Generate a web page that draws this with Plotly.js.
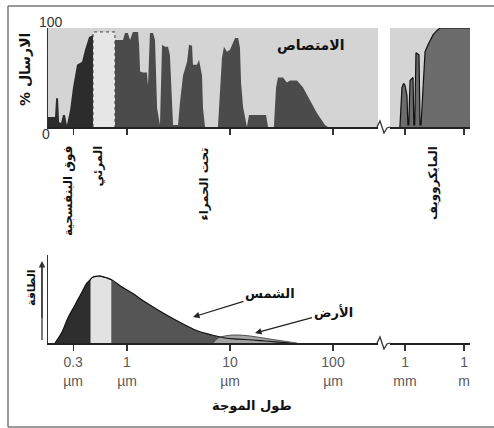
<!DOCTYPE html>
<html>
<head>
<meta charset="utf-8">
<script src="https://cdn.plot.ly/plotly-3.0.1.min.js"></script>
<style>html,body{margin:0;padding:0;background:#fff;}#chart{width:494px;height:428px;}</style>
</head>
<body>
<div id="chart"></div>
<script>
// ---------- DATA ----------
// Transmission (%) of the atmosphere, wavelength in micrometres
const uvWl = [0.171, 0.200, 0.205, 0.214, 0.219, 0.229, 0.239, 0.250, 0.261, 0.280, 0.299, 0.327, 0.366, 0.391, 0.428, 0.468];
const uvT  = [10, 10, 29, 29, 5, 4, 12, 12, 2, 17, 40, 63, 66, 78, 91, 93];

const visTopWl = [0.468, 0.764];   // visible window in transmission panel (µm)
const visTopT = 96;

const irWl = [0.765, 0.80, 0.914, 0.956, 1.02, 1.07, 1.14, 1.28, 1.31, 1.34, 1.43, 1.56, 1.60, 1.67, 1.79, 1.87, 1.96, 2.09, 2.19, 2.34, 2.50, 2.61, 2.73, 2.80, 3.13, 3.27, 3.50, 3.83, 4.00, 4.28, 4.37, 4.78, 5.00, 5.35, 5.47, 5.72, 7.64, 8.00, 8.36, 8.74, 9.35, 10.0, 10.7, 11.2, 12.0, 12.5, 12.8, 13.4, 14.0, 14.6, 15.3, 22.4, 23.4, 26.7, 28.0, 29.2, 32.7, 35.7, 38.3, 44.7, 51.2, 59.8, 70.0, 83.6, 89.4];
const irT  = [88, 88, 88, 95, 95, 88, 96, 96, 83, 56, 55, 55, 42, 95, 95, 88, 19, 2, 83, 81, 81, 73, 19, 2, 2, 25, 52, 66, 83, 82, 63, 63, 68, 52, 19, 0, 0, 35, 70, 81, 76, 78, 85, 90, 90, 80, 45, 20, 10, 0, 12, 12, 0, 0, 40, 50, 50, 45, 47, 47, 40, 27, 14, 2, 0];

// Microwave transmission, wavelength in millimetres
const mwMm = [0.55, 0.70, 0.85, 1.0, 1.25, 1.40, 1.55, 1.80, 2.55, 2.80, 3.10, 3.60, 5.1, 5.8, 6.5, 8.2, 10.4, 14.7, 20, 26.4, 40, 60, 2000];
const mwT  = [0, 40, 44, 42, 32, 2, 2, 47, 50, 2, 2, 75, 73, 2, 2, 45, 76, 83, 88, 93, 97, 100, 100];

// Emitted energy (relative), wavelength in micrometres
const sunWl = [0.200, 0.234, 0.267, 0.313, 0.366, 0.409, 0.437, 0.468, 0.547, 0.640, 0.715, 0.894, 1.12, 1.50, 2.00, 2.73, 3.66, 4.89, 6.69, 8.94, 12.0, 16.4, 21.9, 29.2, 38.3];
const sunE  = [0, 0.125, 0.284, 0.432, 0.580, 0.682, 0.716, 0.750, 0.761, 0.739, 0.716, 0.636, 0.568, 0.466, 0.375, 0.284, 0.205, 0.136, 0.091, 0.057, 0.045, 0.034, 0.023, 0.011, 0];
const visBotWl = [0.437, 0.715];   // visible band in energy panel (µm)

const earthWl = [6.84, 7.64, 8.94, 10.5, 12.5, 15.6, 19.6, 24.4, 30.6, 38.3, 44.7];
const earthE  = [0, 0.057, 0.08, 0.09, 0.09, 0.08, 0.063, 0.045, 0.028, 0.011, 0];

// Tick labels
const umTickVals = [0.3, 1, 10, 100];
const umTickText = ['0.3<br>µm', '1<br>µm', '10<br>µm', '100<br>µm'];
const mmTickVals = [1, 1000];
const mmTickText = ['1<br>mm', '1<br>m'];

// Texts
const txtTransmission = '% الارسال';
const txtAbsorption = 'الامتصاص';
const txtUV = 'فوق البنفسجية';
const txtVisible = 'المرئي';
const txtIR = 'تحت الحمراء';
const txtMicro = 'المايكروويف';
const txtEnergy = 'الطاقة';
const txtSun = 'الشمس';
const txtEarth = 'الأرض';
const txtWavelength = 'طول الموجة';

// ---------- LAYOUT HELPERS ----------
const W = 494, H = 428;
const px = v => v / W;
const py = v => 1 - v / H;
const arFont = (size, color) => ({family: 'DejaVu Sans', size: size, color: color || '#111', weight: 'bold'});

// split sun curve by visible band
const sUV = {x: [], y: []}, sVis = {x: [], y: []}, sIR = {x: [], y: []};
sunWl.forEach((w, i) => {
  if (w <= visBotWl[0]) { sUV.x.push(w); sUV.y.push(sunE[i]); }
  if (w >= visBotWl[0] && w <= visBotWl[1]) { sVis.x.push(w); sVis.y.push(sunE[i]); }
  if (w >= visBotWl[1]) { sIR.x.push(w); sIR.y.push(sunE[i]); }
});
const visPolyX = [visBotWl[0]].concat(sVis.x, [visBotWl[1]]);
const visPolyY = [0].concat(sVis.y, [0]);

const traces = [
  {x: uvWl, y: uvT, xaxis: 'x', yaxis: 'y', type: 'scatter', mode: 'lines', fill: 'tozeroy', fillcolor: '#2c2c2c', line: {width: 0, color: '#2c2c2c'}, hoverinfo: 'skip'},
  {x: [visTopWl[0], visTopWl[0], visTopWl[1], visTopWl[1]], y: [0, visTopT, visTopT, 0], xaxis: 'x', yaxis: 'y', type: 'scatter', mode: 'lines', fill: 'toself', fillcolor: '#e6e6e6', line: {width: 1, color: '#444', dash: 'dot'}, hoverinfo: 'skip'},
  {x: irWl, y: irT, xaxis: 'x', yaxis: 'y', type: 'scatter', mode: 'lines', fill: 'tozeroy', fillcolor: '#4b4b4b', line: {width: 0, color: '#4b4b4b'}, hoverinfo: 'skip'},
  {x: mwMm, y: mwT, xaxis: 'x2', yaxis: 'y2', type: 'scatter', mode: 'lines', fill: 'tozeroy', fillcolor: '#6c6c6c', line: {width: 1.2, color: '#111'}, hoverinfo: 'skip'},
  {x: sUV.x, y: sUV.y, xaxis: 'x3', yaxis: 'y3', type: 'scatter', mode: 'lines', fill: 'tozeroy', fillcolor: '#2e2e2e', line: {width: 0, color: '#2e2e2e', shape: 'spline'}, hoverinfo: 'skip'},
  {x: visPolyX, y: visPolyY, xaxis: 'x3', yaxis: 'y3', type: 'scatter', mode: 'lines', fill: 'toself', fillcolor: '#e2e2e2', line: {width: 1, color: '#222'}, hoverinfo: 'skip'},
  {x: sIR.x, y: sIR.y, xaxis: 'x3', yaxis: 'y3', type: 'scatter', mode: 'lines', fill: 'tozeroy', fillcolor: '#555555', line: {width: 0, color: '#555', shape: 'spline'}, hoverinfo: 'skip'},
  {x: earthWl, y: earthE, xaxis: 'x3', yaxis: 'y3', type: 'scatter', mode: 'lines', fill: 'tozeroy', fillcolor: '#a3a3a3', line: {width: 0.8, color: '#333', shape: 'spline'}, hoverinfo: 'skip'},
  {x: sunWl, y: sunE, xaxis: 'x3', yaxis: 'y3', type: 'scatter', mode: 'lines', line: {width: 1.2, color: '#111', shape: 'spline'}, hoverinfo: 'skip'},
  {x: [], y: [], xaxis: 'x4', yaxis: 'y4', type: 'scatter', mode: 'lines', hoverinfo: 'skip'}
];

const baseX = {type: 'log', showgrid: false, zeroline: false, showline: true, linecolor: '#222', linewidth: 1.5,
  ticks: 'outside', ticklen: 6, tickwidth: 1.2, tickcolor: '#333', fixedrange: true};
const baseY = {showgrid: false, zeroline: false, ticks: '', showticklabels: false, fixedrange: true};
const tickFont = {family: 'Liberation Sans, Arial, sans-serif', size: 14, color: '#5a5a5a'};

const domL = [px(48), px(378)], domR = [px(390), px(470)];
const rangeUm = [-0.767, 2.437], rangeMm = [-0.763, 3.30];
const domTop = [py(127), py(28)], domBot = [py(343), py(255)];

function ann(o) {
  return Object.assign({xref: 'paper', yref: 'paper', xanchor: 'center', yanchor: 'middle', showarrow: false}, o);
}

const layout = {
  width: W, height: H, margin: {l: 0, r: 0, t: 0, b: 0},
  paper_bgcolor: '#ffffff', plot_bgcolor: 'rgba(0,0,0,0)', showlegend: false,
  xaxis:  Object.assign({}, baseX, {domain: domL, range: rangeUm, anchor: 'y', tickvals: umTickVals, showticklabels: false}),
  yaxis:  Object.assign({}, baseY, {domain: domTop, range: [0, 100], anchor: 'x', showline: true, linecolor: '#333', linewidth: 1}),
  xaxis2: Object.assign({}, baseX, {domain: domR, range: rangeMm, anchor: 'y2', tickvals: mmTickVals, showticklabels: false}),
  yaxis2: Object.assign({}, baseY, {domain: domTop, range: [0, 100], anchor: 'x2', showline: false}),
  xaxis3: Object.assign({}, baseX, {domain: domL, range: rangeUm, anchor: 'y3', tickvals: umTickVals, ticktext: umTickText, tickfont: tickFont}),
  yaxis3: Object.assign({}, baseY, {domain: domBot, range: [0, 1], anchor: 'x3', showline: true, linecolor: '#333', linewidth: 1.2}),
  xaxis4: Object.assign({}, baseX, {domain: domR, range: rangeMm, anchor: 'y4', tickvals: mmTickVals, ticktext: mmTickText, tickfont: tickFont}),
  yaxis4: Object.assign({}, baseY, {domain: domBot, range: [0, 1], anchor: 'x4', showline: false}),
  shapes: [
    {type: 'rect', xref: 'x domain', yref: 'y domain', x0: 0, x1: 1, y0: 0, y1: 1, fillcolor: '#d4d4d4', line: {width: 0}, layer: 'below'},
    {type: 'rect', xref: 'x2 domain', yref: 'y2 domain', x0: 0, x1: 1, y0: 0, y1: 1, fillcolor: '#d4d4d4', line: {width: 0}, layer: 'below'},
    {type: 'path', xref: 'paper', yref: 'paper', path: `M ${px(377)},${py(127)} L ${px(380)},${py(121)} L ${px(384)},${py(133)} L ${px(387)},${py(128)} L ${px(390)},${py(127)}`, line: {color: '#333', width: 1.3}},
    {type: 'path', xref: 'paper', yref: 'paper', path: `M ${px(377)},${py(343)} L ${px(380)},${py(337)} L ${px(384)},${py(349)} L ${px(387)},${py(344)} L ${px(390)},${py(343)}`, line: {color: '#333', width: 1.3}},
    {type: 'line', xref: 'paper', yref: 'paper', x0: px(8), x1: px(8), y0: py(6), y1: py(427), line: {color: '#777', width: 1.5}},
    {type: 'line', xref: 'paper', yref: 'paper', x0: px(8), x1: 1.01, y0: py(6), y1: py(6), line: {color: '#777', width: 1.5}},
    {type: 'line', xref: 'paper', yref: 'paper', x0: px(8), x1: 1.01, y0: py(427), y1: py(427), line: {color: '#777', width: 1.5}},
    // energy axis arrow shaft
    {type: 'line', xref: 'paper', yref: 'paper', x0: px(42), x1: px(42), y0: py(340), y1: py(266), line: {color: '#333', width: 1.3}}
  ],
  annotations: [
    ann({x: px(51), y: py(22), text: '100', font: {family: 'Liberation Sans, Arial', size: 14, color: '#333'}}),
    ann({x: px(46), y: py(134), text: '0', font: {family: 'Liberation Sans, Arial', size: 14, color: '#333'}}),
    ann({x: px(25), y: py(70), text: txtTransmission, textangle: -90, font: arFont(14)}),
    ann({x: px(311), y: py(45), text: txtAbsorption, font: arFont(14)}),
    ann({x: px(68), y: py(144), yanchor: 'top', text: txtUV, textangle: -90, font: arFont(12)}),
    ann({x: px(97), y: py(144), yanchor: 'top', text: txtVisible, textangle: -90, font: arFont(12)}),
    ann({x: px(203), y: py(146), yanchor: 'top', text: txtIR, textangle: -90, font: arFont(12)}),
    ann({x: px(433), y: py(144), yanchor: 'top', text: txtMicro, textangle: -90, font: arFont(12)}),
    ann({x: px(31), y: py(287), text: txtEnergy, textangle: -90, font: arFont(11)}),
    ann({x: px(42), y: py(261), ax: 0, ay: 60, text: ' ', font: {size: 2}, showarrow: true, arrowhead: 2, arrowsize: 1, arrowwidth: 1.3, arrowcolor: '#333'}),
    ann({x: px(193), y: py(317), ax: 77, ay: -24, text: txtSun, showarrow: true, arrowhead: 2, arrowsize: 1, arrowwidth: 1.3, arrowcolor: '#222', font: arFont(13)}),
    ann({x: px(255), y: py(333), ax: 78, ay: -21, text: txtEarth, showarrow: true, arrowhead: 2, arrowsize: 1, arrowwidth: 1.3, arrowcolor: '#222', font: arFont(13)}),
    ann({x: px(252), y: py(405), text: txtWavelength, font: arFont(13)})
  ]
};

Plotly.newPlot('chart', traces, layout, {displayModeBar: false, staticPlot: true});
</script>
</body>
</html>
